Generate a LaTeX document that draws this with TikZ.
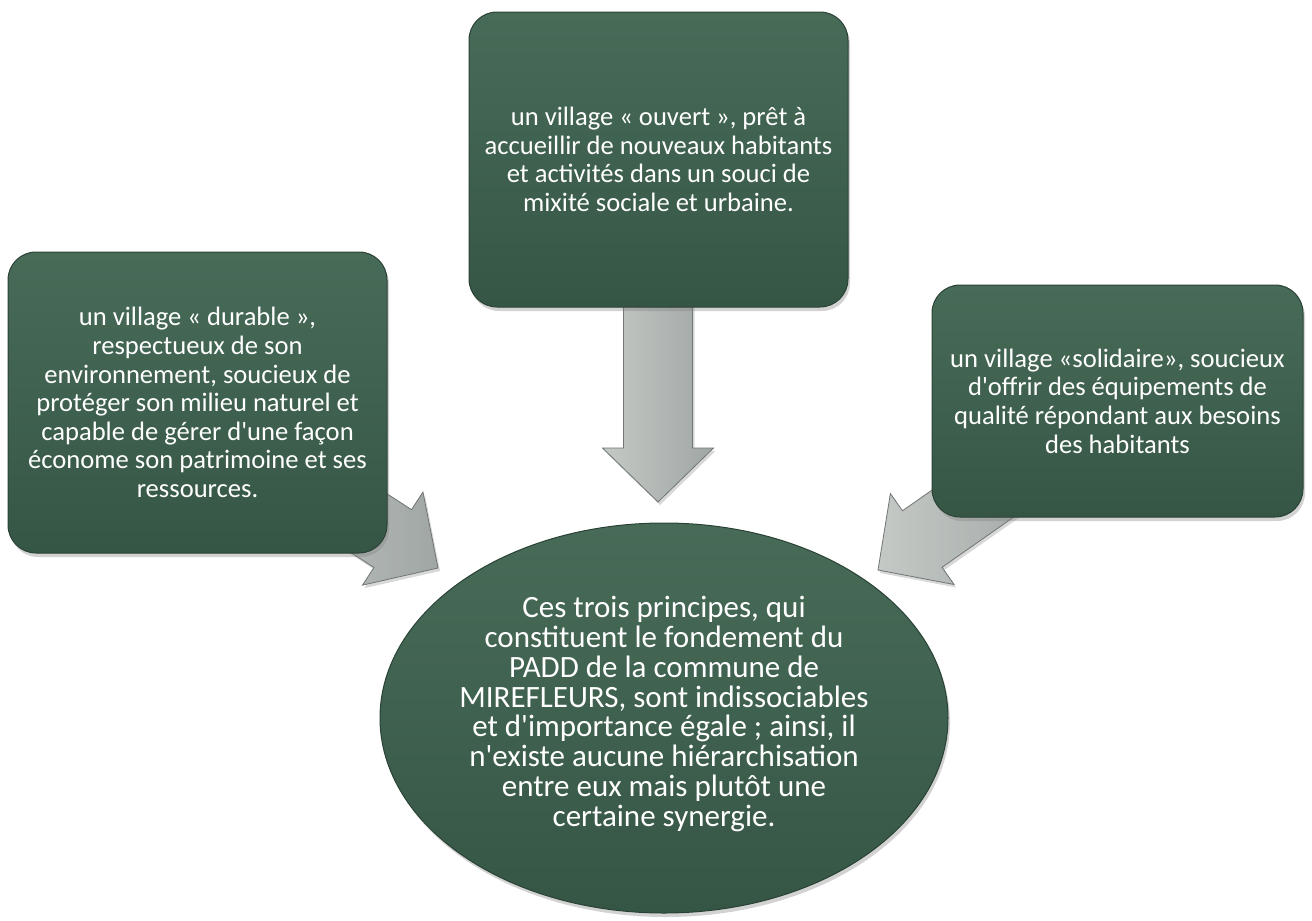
\documentclass[tikz,border=0pt]{standalone}
\usepackage{fontspec}
\setmainfont{Carlito}[Ligatures=TeXOff]
\usetikzlibrary{shapes.geometric,shadows}
\definecolor{boxtop}{RGB}{72,107,88}
\definecolor{boxbot}{RGB}{54,86,69}
\definecolor{boxedge}{RGB}{42,66,53}
\definecolor{arrowfill}{RGB}{160,166,163}
\definecolor{arrowlight}{RGB}{196,201,198}
\definecolor{arrowedge}{RGB}{112,118,115}
\tikzset{
  greenbox/.style={rectangle, rounded corners=28pt, top color=boxtop, bottom color=boxbot,
    draw=boxedge, line width=1pt, inner sep=0pt,
    drop shadow={shadow xshift=2pt, shadow yshift=-4pt, opacity=0.35}},
  greenoval/.style={ellipse, top color=boxtop, bottom color=boxbot,
    draw=boxedge, line width=1pt, inner sep=0pt,
    drop shadow={shadow xshift=2pt, shadow yshift=-4pt, opacity=0.35}},
  boxtext/.style={text=white, align=center, inner sep=0pt,
    font=\fontsize{26.6}{28.6}\selectfont},
  ovaltext/.style={text=white, align=center, inner sep=0pt,
    font=\fontsize{31}{29.8}\selectfont},
  blockarrow/.style={left color=arrowlight, right color=arrowfill, draw=arrowedge, line width=0.8pt,
    line join=miter,
    drop shadow={shadow xshift=2pt, shadow yshift=-3pt, opacity=0.3}}
}
\newcommand{\arrowshape}{%
  (-54,34.5) -- (-200,34.5) -- (-200,-34.5) -- (-54,-34.5) -- (-54,-55.5) -- (0,0) -- (-54,55.5) -- cycle}
\begin{document}
\begin{tikzpicture}[x=1pt,y=-1pt]
\useasboundingbox[fill=white] (0,0) rectangle (1312,921);

% arrow tips
\coordinate (tipL) at (438,568);
\coordinate (tipC) at (658,502);
\coordinate (tipR) at (878,570);

% block arrows (drawn first, hidden under the boxes)
\begin{scope}[shift={(tipL)}, rotate=-33]
  \path[blockarrow] \arrowshape;
\end{scope}
\begin{scope}[shift={(tipC)}, rotate=-90]
  \path[blockarrow] \arrowshape;
\end{scope}
\begin{scope}[shift={(tipR)}, rotate=-145]
  \path[blockarrow] \arrowshape;
\end{scope}

% boxes
\node[greenbox, minimum width=379pt, minimum height=295pt] (top) at (658.5,159.5) {};
\node[greenbox, minimum width=379pt, minimum height=301pt] (left) at (197.5,402.5) {};
\node[greenbox, minimum width=371pt, minimum height=232pt] (right) at (1117.5,401) {};

\node[boxtext] (toptext) at (top.center) {un village « ouvert », prêt à\\accueillir de nouveaux habitants\\et activités dans un souci de\\mixité sociale et urbaine.};
\node[boxtext] (lefttext) at (left.center) {un village « durable »,\\respectueux de son\\environnement, soucieux de\\protéger son milieu naturel et\\capable de gérer d'une façon\\économe son patrimoine et ses\\ressources.};
\node[boxtext] (righttext) at (right.center) {un village «solidaire», soucieux\\d'offrir des équipements de\\qualité répondant aux besoins\\des habitants};

% central ellipse
\node[greenoval, minimum width=568pt, minimum height=390pt] (oval) at (664,718) {};
\node[ovaltext] (ovaltext) at (664,714) {Ces trois principes, qui\\constituent le fondement du\\PADD de la commune de\\MIREFLEURS, sont indissociables\\et d'importance égale ; ainsi, il\\n'existe aucune hiérarchisation\\entre eux mais plutôt une\\certaine synergie.};
\end{tikzpicture}
\end{document}
